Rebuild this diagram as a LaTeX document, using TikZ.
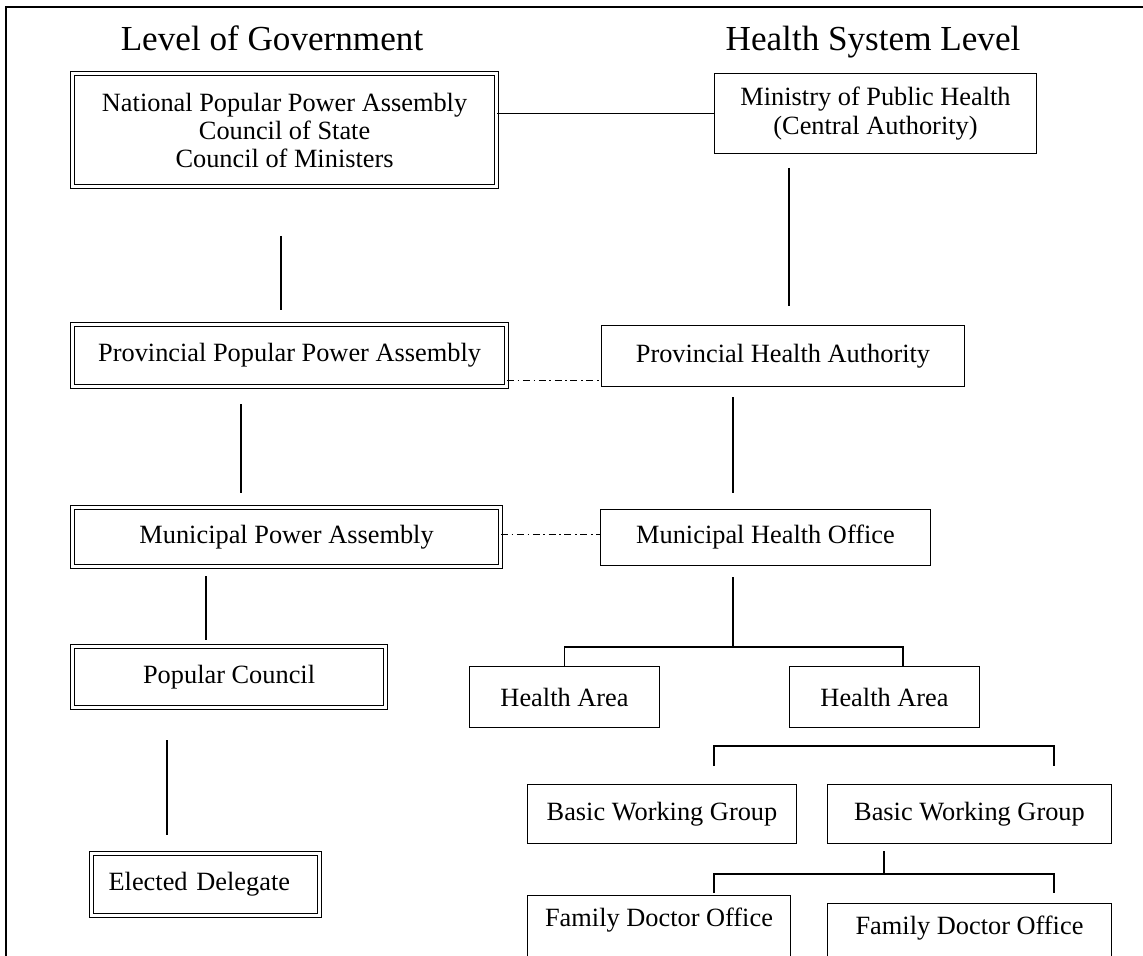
\documentclass[tikz,border=0pt]{standalone}
\usepackage{fontspec}
\setmainfont{Liberation Serif}
\usetikzlibrary{calc}

\tikzset{
  govbox/.style={draw, double, double distance=1.5pt, line width=0.7pt, inner sep=0pt,
    anchor=north west, align=center, font=\fontsize{15}{16}\selectfont},
  hsbox/.style={draw, line width=0.6pt, inner sep=0pt, anchor=north west,
    align=center, font=\fontsize{15}{16}\selectfont},
  title/.style={anchor=base, font=\fontsize{20}{22}\selectfont},
  link/.style={line width=0.6pt},
  sidelink/.style={line width=0.5pt, dash pattern=on 4pt off 2pt on 1pt off 2pt},
}

\begin{document}
\begin{tikzpicture}[x=0.02cm, y=-0.02cm]
\useasboundingbox (0,0) rectangle (1143,956);
\begin{scope}
\clip (0,0) rectangle (1143,956);
% Frame
\draw[line width=1.1pt] (6,956) -- (6,7) -- (1143,7);

% Titles
\node[title] (tgov) at (272,51) {Level of Government};
\node[title] (ths) at (873,51) {Health System Level};

% Level of government
\node[govbox, minimum width=8.48cm, minimum height=2.26cm] (nat) at (72,73)
  {National Popular Power Assembly\\Council of State\\Council of Ministers};
\node[govbox, minimum width=8.68cm, minimum height=1.24cm] (prov) at (72,324)
  {Provincial Popular Power Assembly};
\node[govbox, minimum width=8.56cm, minimum height=1.18cm] (mun) at (72,507)
  {Municipal Power Assembly};
\node[govbox, minimum width=6.26cm, minimum height=1.22cm] (pop) at (72,646)
  {Popular Council};
\node[govbox, minimum height=1.24cm, text width=3.88cm, inner xsep=0.34cm, align=left] (elect) at (91,853)
  {Elected Delegate};

% Health system level
\node[hsbox, minimum width=6.44cm, minimum height=1.6cm] (min) at (714,73)
  {Ministry of Public Health\\(Central Authority)};
\node[hsbox, minimum width=7.26cm, minimum height=1.22cm] (pha) at (601,325)
  {Provincial Health Authority};
\node[hsbox, minimum width=6.6cm, minimum height=1.12cm] (mho) at (600,509)
  {Municipal Health Office};
\node[hsbox, minimum width=3.8cm, minimum height=1.22cm] (ha1) at (469,666) {Health Area};
\node[hsbox, minimum width=3.8cm, minimum height=1.22cm] (ha2) at (789,666) {Health Area};
\node[hsbox, minimum width=5.38cm, minimum height=1.18cm] (bwg1) at (527,784) {Basic Working Group};
\node[hsbox, minimum width=5.68cm, minimum height=1.18cm] (bwg2) at (827,784) {Basic Working Group};
\node[hsbox, minimum width=5.26cm, text height=0.62cm, text depth=1.2cm] (fdo1) at (527,895) {Family Doctor Office};
\node[hsbox, minimum width=5.68cm, text height=0.62cm, text depth=1.2cm] (fdo2) at (827,903) {Family Doctor Office};

% Free ends of the links
\coordinate (g1) at (281,236); \coordinate (g2) at (281,310);
\coordinate (g3) at (241,404); \coordinate (g4) at (241,493);
\coordinate (g5) at (206,576); \coordinate (g6) at (206,640);
\coordinate (g7) at (167,740); \coordinate (g8) at (167,835);
\coordinate (h1) at (789,168); \coordinate (h2) at (789,306);
\coordinate (h3) at (733,397); \coordinate (h4) at (733,493);
\coordinate (h5) at (733,577); \coordinate (h6) at (733,647);
\coordinate (h7) at (903,666);
\coordinate (k1) at (714,766); \coordinate (k2) at (1054,766); \coordinate (k0) at (1054,746);
\coordinate (k3) at (884,851); \coordinate (k4) at (884,874);
\coordinate (k5) at (714,893); \coordinate (k6) at (1054,893);

% Links
\draw[link] (nat.east |- min.west) -- (min.west);
\draw[link] (g1) -- (g2);
\draw[link] (g3) -- (g4);
\draw[link] (g5) -- (g6);
\draw[link] (g7) -- (g8);
\draw[link] (h1) -- (h2);
\draw[link] (h3) -- (h4);
\draw[link] (h5) -- (h6);
\draw[sidelink] ([yshift=0.14cm]prov.south east) -- ([yshift=0.14cm]prov.south east -| pha.west);
\draw[sidelink] ([yshift=0.06cm]mun.east) -- ([yshift=0.06cm]mun.east -| mho.west);

% Forks
\draw[link] (ha1.north) |- (h6) -| (h7);
\draw[link] (k1) |- (k0) -- (k2);
\draw[link] (k3) -- (k4);
\draw[link] (k5) |- (k4) -| (k6);
\end{scope}
\end{tikzpicture}
\end{document}
